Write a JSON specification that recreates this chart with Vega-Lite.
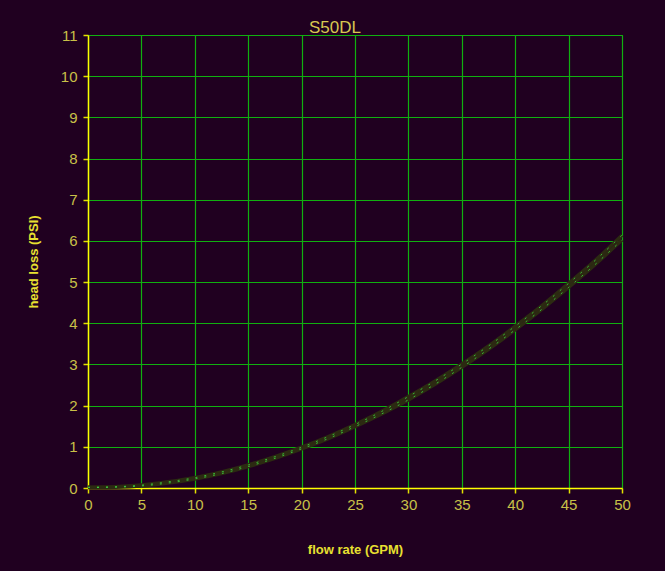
{
  "$schema": "https://vega.github.io/schema/vega-lite/v6.json",
  "width": 534,
  "height": 453,
  "autosize": {"type": "none"},
  "padding": {"left": 88, "top": 35, "right": 43, "bottom": 83},
  "background": "#200020",
  "title": {
    "text": "S50DL",
    "fontSize": 17,
    "font": "Liberation Sans Narrow, Liberation Sans, sans-serif",
    "fontWeight": "normal",
    "color": "#d8c850",
    "anchor": "middle",
    "offset": -9,
    "dx": -20
  },
  "data": {
    "values": [
      {"flow": 0, "loss": 0.02, "series": "A"},
      {"flow": 2.5, "loss": 0.03, "series": "A"},
      {"flow": 5, "loss": 0.07, "series": "A"},
      {"flow": 7.5, "loss": 0.15, "series": "A"},
      {"flow": 10, "loss": 0.25, "series": "A"},
      {"flow": 12.5, "loss": 0.39, "series": "A"},
      {"flow": 15, "loss": 0.56, "series": "A"},
      {"flow": 17.5, "loss": 0.76, "series": "A"},
      {"flow": 20, "loss": 0.99, "series": "A"},
      {"flow": 22.5, "loss": 1.25, "series": "A"},
      {"flow": 25, "loss": 1.54, "series": "A"},
      {"flow": 27.5, "loss": 1.86, "series": "A"},
      {"flow": 30, "loss": 2.22, "series": "A"},
      {"flow": 32.5, "loss": 2.6, "series": "A"},
      {"flow": 35, "loss": 3.01, "series": "A"},
      {"flow": 37.5, "loss": 3.45, "series": "A"},
      {"flow": 40, "loss": 3.93, "series": "A"},
      {"flow": 42.5, "loss": 4.43, "series": "A"},
      {"flow": 45, "loss": 4.97, "series": "A"},
      {"flow": 47.5, "loss": 5.53, "series": "A"},
      {"flow": 50, "loss": 6.14, "series": "A"},
      {"flow": 0, "loss": 0.01, "series": "B"},
      {"flow": 2.5, "loss": 0.02, "series": "B"},
      {"flow": 5, "loss": 0.05, "series": "B"},
      {"flow": 7.5, "loss": 0.12, "series": "B"},
      {"flow": 10, "loss": 0.22, "series": "B"},
      {"flow": 12.5, "loss": 0.35, "series": "B"},
      {"flow": 15, "loss": 0.52, "series": "B"},
      {"flow": 17.5, "loss": 0.72, "series": "B"},
      {"flow": 20, "loss": 0.95, "series": "B"},
      {"flow": 22.5, "loss": 1.2, "series": "B"},
      {"flow": 25, "loss": 1.49, "series": "B"},
      {"flow": 27.5, "loss": 1.8, "series": "B"},
      {"flow": 30, "loss": 2.14, "series": "B"},
      {"flow": 32.5, "loss": 2.52, "series": "B"},
      {"flow": 35, "loss": 2.93, "series": "B"},
      {"flow": 37.5, "loss": 3.37, "series": "B"},
      {"flow": 40, "loss": 3.84, "series": "B"},
      {"flow": 42.5, "loss": 4.34, "series": "B"},
      {"flow": 45, "loss": 4.87, "series": "B"},
      {"flow": 47.5, "loss": 5.43, "series": "B"},
      {"flow": 50, "loss": 6.02, "series": "B"}
    ]
  },
  "encoding": {
    "x": {
      "field": "flow",
      "type": "quantitative",
      "scale": {"domain": [0, 50], "nice": false},
      "axis": {
        "title": "flow rate (GPM)",
        "values": [0, 5, 10, 15, 20, 25, 30, 35, 40, 45, 50],
        "labelFlush": false,
        "labelPadding": 4,
        "titlePadding": 31
      }
    },
    "y": {
      "field": "loss",
      "type": "quantitative",
      "scale": {"domain": [0, 11], "nice": false},
      "axis": {
        "title": "head loss (PSI)",
        "values": [0, 1, 2, 3, 4, 5, 6, 7, 8, 9, 10, 11],
        "titlePadding": 20
      }
    },
    "detail": {"field": "series"}
  },
  "layer": [
    {
      "mark": {"type": "line", "stroke": "#2c2a12", "strokeWidth": 3.5, "interpolate": "monotone"}
    },
    {
      "mark": {"type": "line", "stroke": "#40e040", "strokeWidth": 1, "strokeDash": [2, 7], "opacity": 0.8, "interpolate": "monotone"}
    }
  ],
  "config": {
    "view": {"stroke": "#10a010", "strokeWidth": 1, "fill": "#200020"},
    "axis": {
      "domainColor": "#ffff00",
      "domainWidth": 1.5,
      "tickColor": "#e0e000",
      "tickSize": 5,
      "tickWidth": 1.5,
      "gridColor": "#10b010",
      "gridWidth": 1.2,
      "gridOpacity": 1,
      "labelColor": "#c8c048",
      "labelFont": "Liberation Sans Narrow, Liberation Sans, sans-serif",
      "labelFontSize": 15,
      "labelPadding": 6,
      "titleColor": "#e8e030",
      "titleFont": "Liberation Sans, sans-serif",
      "titleFontSize": 13,
      "titleFontWeight": "bold"
    }
  }
}
